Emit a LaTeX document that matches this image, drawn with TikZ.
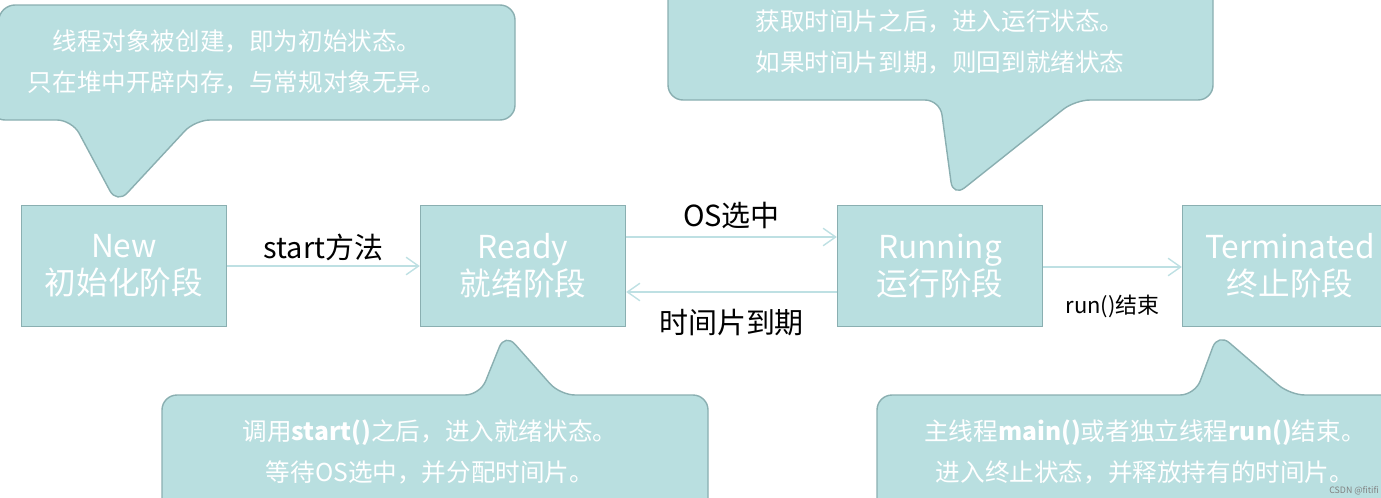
\documentclass[tikz,border=0pt]{standalone}
\usepackage{fontspec}
\setmainfont{Noto Sans CJK SC}
\usetikzlibrary{arrows.meta}
\definecolor{boxfill}{HTML}{B9DFE0}
\definecolor{boxline}{HTML}{8AAFB1}
\definecolor{flow}{HTML}{BEE0E3}
\begin{document}
\begin{tikzpicture}[
        x=0.02cm, y=-0.02cm,
        state/.style={rectangle, draw=boxline, fill=boxfill, thick, minimum width=4.1cm, minimum height=2.42cm, text=white, font=\fontsize{18}{21}\selectfont, align=center, inner sep=0pt},
        bubble/.style={draw=boxline, fill=boxfill, thick, rounded corners=0.3cm},
        note/.style={text=white, font=\fontsize{14}{23}\selectfont, align=center},
        flowline/.style={-{Straight Barb[length=2.5mm,width=3.5mm]}, draw=flow, thick},
        lbl/.style={font=\fontsize{16.5}{19}\selectfont}
    ]
    \useasboundingbox (0,0) rectangle (1381,497);

        % Blasen
        \draw[bubble] (0,5) -- (515,5) -- (515,120) -- (195,120) -- (117,204) -- (72,120) -- (-10,120) -- cycle;
        \draw[bubble] (668,-20) -- (1213,-20) -- (1213,100) -- (1075,100) -- (953,197) -- (940,100) -- (668,100) -- cycle;
        \draw[bubble] (162,395) -- (480,395) -- (505,333) -- (560,395) -- (708,395) -- (708,520) -- (162,520) -- cycle;
        \draw[bubble] (877,395) -- (1195,395) -- (1218,333) -- (1290,395) -- (1400,395) -- (1400,520) -- (877,520) -- cycle;

        \node[note] (tNew) at (237,62) {线程对象被创建，即为初始状态。\\只在堆中开辟内存，与常规对象无异。};
        \node[note] (tRun) at (940,42) {获取时间片之后，进入运行状态。\\如果时间片到期，则回到就绪状态};
        \node[note] (tReady) at (430,452) {调用\textbf{start()}之后，进入就绪状态。\\等待OS选中，并分配时间片。};
        \node[note] (tTerm) at (1145,452) {主线程\textbf{main()}或者独立线程\textbf{run()}结束。\\进入终止状态，并释放持有的时间片。};

        % Zustände
        \node[state] (new) at (124,266) {New\\初始化阶段};
        \node[state] (ready) at (523,266) {Ready\\就绪阶段};
        \node[state] (running) at (940,266) {Running\\运行阶段};
        \node[state, minimum width=4.3cm] (term) at (1290,266) {Terminated\\终止阶段};

        % Übergänge
        \draw[flowline] (new) -- node[lbl, above=-1pt] {start方法} (ready);
        \draw[flowline] (ready.east |- 0,237) -- node[lbl, above=1pt] {OS选中} (running.west |- 0,237);
        \draw[flowline] (running.west |- 0,292) -- node[lbl, below=6pt] {时间片到期} (ready.east |- 0,292);
        \draw[flowline] (running.east |- 0,267) -- node[font=\fontsize{12.5}{15}\selectfont, below=12pt] {run()结束} (term.west |- 0,267);

        \node[font=\fontsize{5}{6}\selectfont, text=gray, anchor=south east, inner sep=1pt] (csdn) at (1381,497) {CSDN @fitifi};
    \end{tikzpicture}
\end{document}
